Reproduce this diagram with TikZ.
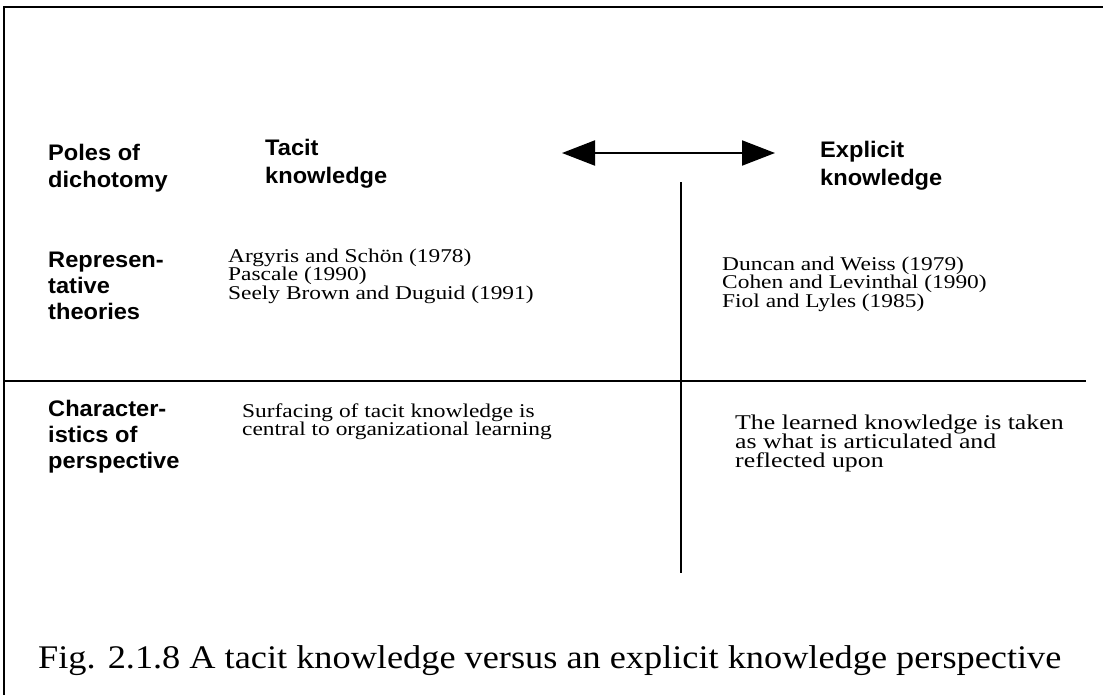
\documentclass[tikz,border=0pt]{standalone}
\usepackage{fontspec}
\setmainfont{Liberation Serif}
\setsansfont{Liberation Sans}
% widened cuts of the serif and sans faces
\newfontfamily\theoryserif[FakeStretch=1.2]{Liberation Serif}
\newfontfamily\wideserif[FakeStretch=1.23]{Liberation Serif}
\newfontfamily\capserif[FakeStretch=1.1]{Liberation Serif}
\newfontfamily\labelsans[FakeStretch=1.05]{Liberation Sans}
\usetikzlibrary{arrows.meta}
\begin{document}
\begin{tikzpicture}[x=1pt,y=-1pt,
  rowlabel/.style={anchor=base west, inner sep=0pt,
    font=\fontsize{22.5}{26}\labelsans\bfseries},
  pole/.style={rowlabel},
  theory/.style={anchor=base west, inner sep=0pt,
    font=\fontsize{19.5}{18.5}\theoryserif},
  trait/.style={theory},
  traitbig/.style={anchor=base west, inner sep=0pt,
    font=\fontsize{21}{19}\wideserif},
  rule/.style={line width=2pt, line cap=rect},
  polearrow/.style={line width=2pt, {Triangle[length=33pt,width=25pt]}-{Triangle[length=33pt,width=25pt]}}
]
\useasboundingbox (0,0) rectangle (1103,694);

% outer frame (only top and left edges fall inside the page)
\draw[rule] (4,7) -- (1103,7);
\draw[rule] (4,7) -- (4,694);

% table rules
\draw[rule] (4,381) -- (1085,381);
\draw[rule] (681,183) -- (681,572);

% row labels
\node[rowlabel] (poles1) at (48,160) {Poles of};
\node[rowlabel] (poles2) at (48,187) {dichotomy};
\foreach \txt [count=\i from 0] in {Represen-, tative, theories}
  \node[rowlabel, name=repr\i] at (48,267+26*\i) {\txt};
\foreach \txt [count=\i from 0] in {Character-, istics of, perspective}
  \node[rowlabel, name=char\i] at (48,416+26*\i) {\txt};

% poles
\node[pole] (tacit1) at (265,155) {Tacit};
\node[pole] (tacit2) at (265,183) {knowledge};
\node[pole] (expl1) at (820,157) {Explicit};
\node[pole] (expl2) at (820,185) {knowledge};

\coordinate (arrowL) at (562,153);
\coordinate (arrowR) at (775,153);
\draw[polearrow] (arrowL) -- (arrowR);

% representative theories
\foreach \txt [count=\i from 0] in {Argyris and Schön (1978), Pascale (1990), Seely Brown and Duguid (1991)}
  \node[theory, name=tth\i] at (228,262+18.5*\i) {\txt};
\foreach \txt [count=\i from 0] in {Duncan and Weiss (1979), Cohen and Levinthal (1990), Fiol and Lyles (1985)}
  \node[theory, name=eth\i] at (722,270+18.5*\i) {\txt};

% characteristics
\foreach \txt [count=\i from 0] in {Surfacing of tacit knowledge is, central to organizational learning}
  \node[trait, name=tch\i] at (242,417+18.5*\i) {\txt};
\foreach \txt [count=\i from 0] in {The learned knowledge is taken, as what is articulated and, reflected upon}
  \node[traitbig, name=ech\i] at (735,429+19*\i) {\txt};

% caption
\node[anchor=base west, inner sep=0pt, font=\fontsize{33}{38}\capserif]
  (caption) at (38,668) {Fig. 2.1.8 A tacit knowledge versus an explicit knowledge perspective};
\end{tikzpicture}
\end{document}
